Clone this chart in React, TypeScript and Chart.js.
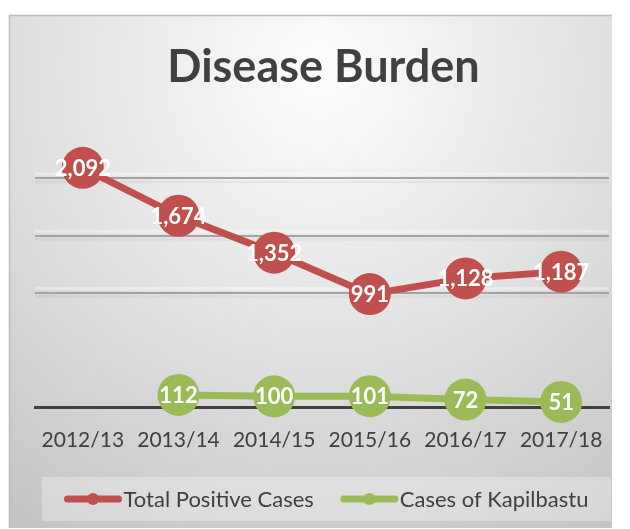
import React, { useEffect, useRef } from "react";
import { Chart, registerables } from "chart.js";

Chart.register(...registerables);

const categories = ["2012/13", "2013/14", "2014/15", "2015/16", "2016/17", "2017/18"];
const totalPositiveCases = [2092, 1674, 1352, 991, 1128, 1187];
const casesOfKapilbastu: (number | null)[] = [null, 112, 100, 101, 72, 51];
const seriesLabels = ["Total Positive Cases", "Cases of Kapilbastu"];
const visibleGridValues = [1000, 1500, 2000];

const RED = "#c0504d";
const GREEN = "#9bbb59";
const TEXT = "#404040";
const FONT = "Lato, 'Open Sans', sans-serif";

const backgroundPlugin = {
  id: "panelBackground",
  beforeDraw(chart: any) {
    const { ctx, width, height } = chart;
    ctx.save();
    ctx.fillStyle = "#ffffff";
    ctx.fillRect(0, 0, width, height);
    const g = ctx.createRadialGradient(320, 70, 0, 320, 70, 560);
    g.addColorStop(0, "#fdfdfd");
    g.addColorStop(0.45, "#e4e4e4");
    g.addColorStop(1, "#c2c2c2");
    ctx.fillStyle = g;
    ctx.fillRect(9, 15, 603, 513);
    ctx.strokeStyle = "#bdbdbd";
    ctx.lineWidth = 1.5;
    ctx.beginPath();
    ctx.moveTo(9.5, 528);
    ctx.lineTo(9.5, 15.5);
    ctx.lineTo(612, 15.5);
    ctx.stroke();
    ctx.restore();
  },
  beforeDatasetsDraw(chart: any) {
    const { ctx, chartArea, scales } = chart;
    ctx.save();
    visibleGridValues.forEach((v) => {
      const y = scales.y.getPixelForValue(v);
      ctx.fillStyle = "rgba(255,255,255,0.35)";
      ctx.fillRect(chartArea.left, y - 6, chartArea.right - chartArea.left, 3);
      ctx.fillStyle = "rgba(0,0,0,0.04)";
      ctx.fillRect(chartArea.left, y + 2, chartArea.right - chartArea.left, 3);
    });
    ctx.restore();
  },
};

const labelsPlugin = {
  id: "valueLabels",
  afterDatasetsDraw(chart: any) {
    const { ctx } = chart;
    ctx.save();
    ctx.fillStyle = "#ffffff";
    ctx.font = `bold 22px ${FONT}`;
    ctx.textAlign = "center";
    ctx.textBaseline = "middle";
    chart.data.datasets.forEach((ds: any, i: number) => {
      const meta = chart.getDatasetMeta(i);
      meta.data.forEach((pt: any, j: number) => {
        const v = ds.data[j];
        if (v == null) return;
        ctx.fillText(Number(v).toLocaleString("en-US"), pt.x, pt.y + 1);
      });
    });
    ctx.restore();
  },
};

const legendPlugin = {
  id: "boxLegend",
  afterDraw(chart: any) {
    const { ctx } = chart;
    const boxX = 42, boxY = 477, boxW = 569, boxH = 44;
    ctx.save();
    ctx.fillStyle = "rgba(255,255,255,0.3)";
    ctx.fillRect(boxX, boxY, boxW, boxH);
    ctx.font = `22px ${FONT}`;
    ctx.textBaseline = "middle";
    const lineLen = 57, gapText = 2, gapItems = 27;
    const items = chart.data.datasets.map((ds: any) => ({
      text: ds.label,
      color: ds.borderColor,
      w: lineLen + gapText + ctx.measureText(ds.label).width,
    }));
    const total = items.reduce((s: number, it: any) => s + it.w, 0) + gapItems * (items.length - 1);
    let x = boxX + boxW / 2 - total / 2;
    const y = boxY + boxH / 2;
    items.forEach((it: any) => {
      ctx.strokeStyle = it.color;
      ctx.lineWidth = 7;
      ctx.lineCap = "round";
      ctx.beginPath();
      ctx.moveTo(x + 3, y);
      ctx.lineTo(x + lineLen - 3, y);
      ctx.stroke();
      ctx.fillStyle = it.color;
      ctx.beginPath();
      ctx.arc(x + lineLen / 2, y, 6, 0, Math.PI * 2);
      ctx.fill();
      ctx.fillStyle = TEXT;
      ctx.textAlign = "left";
      ctx.fillText(it.text, x + lineLen + gapText, y + 1);
      x += it.w + gapItems;
    });
    ctx.restore();
  },
};

export default function App() {
  const ref = useRef<HTMLCanvasElement | null>(null);
  useEffect(() => {
    if (!ref.current) return;
    const chart = new Chart(ref.current, {
      type: "line",
      data: {
        labels: categories,
        datasets: [
          {
            label: seriesLabels[0],
            data: totalPositiveCases,
            borderColor: RED,
            backgroundColor: RED,
            pointBackgroundColor: RED,
            borderWidth: 7,
            pointRadius: 21,
            pointHoverRadius: 21,
            pointBorderWidth: 0,
            tension: 0,
            clip: false,
          } as any,
          {
            label: seriesLabels[1],
            data: casesOfKapilbastu,
            borderColor: GREEN,
            backgroundColor: GREEN,
            pointBackgroundColor: GREEN,
            borderWidth: 7,
            pointRadius: 21,
            pointHoverRadius: 21,
            pointBorderWidth: 0,
            tension: 0,
            spanGaps: false,
            clip: false,
          } as any,
        ],
      },
      options: {
        responsive: false,
        animation: false,
        events: [],
        layout: { padding: { left: 35, right: 18, top: 0, bottom: 56 } },
        plugins: {
          legend: { display: false },
          tooltip: { enabled: false },
          title: {
            display: true,
            text: "Disease Burden",
            color: TEXT,
            font: { family: FONT, size: 45, weight: "bold" },
            padding: { top: 40, bottom: 27 },
          },
        },
        scales: {
          x: {
            offset: true,
            grid: { display: false, drawTicks: false },
            border: { display: true, color: TEXT, width: 3 },
            ticks: { color: TEXT, font: { family: FONT, size: 21 }, padding: 20, maxRotation: 0 },
          },
          y: {
            min: 0,
            max: 2500,
            ticks: { display: false, stepSize: 500 },
            border: { display: false },
            grid: {
              drawTicks: false,
              lineWidth: 2,
              color: (c: any) => (visibleGridValues.includes(c.tick?.value) ? "#a3a3a3" : "rgba(0,0,0,0)"),
            },
          },
        },
      },
      plugins: [backgroundPlugin, labelsPlugin, legendPlugin],
    });
    return () => chart.destroy();
  }, []);
  return (
    <div style={{ position: "absolute", left: 0, top: 0, width: 630, height: 529 }}>
      <canvas ref={ref} width={630} height={529} style={{ width: 630, height: 529 }} />
    </div>
  );
}
